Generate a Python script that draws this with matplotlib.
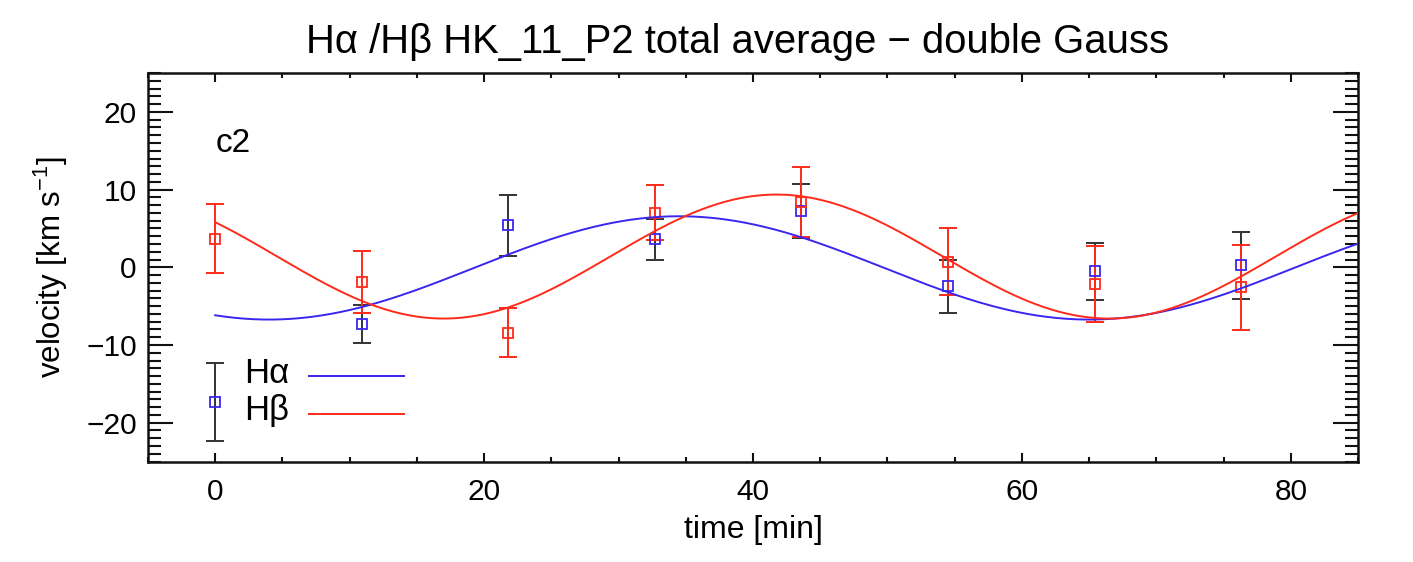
import numpy as np
import matplotlib
matplotlib.use("Agg")
import matplotlib.pyplot as plt
from matplotlib.ticker import MultipleLocator
from matplotlib.lines import Line2D

plt.rcParams["font.family"] = ["Liberation Sans", "DejaVu Sans"]
plt.rcParams["mathtext.fontset"] = "custom"
plt.rcParams["mathtext.rm"] = "Liberation Sans"
plt.rcParams["mathtext.it"] = "Liberation Sans:italic"

# Observation times [min]
time_min = [0.0, 10.9, 21.8, 32.7, 43.6, 54.5, 65.4, 76.3]

# H-alpha velocities and errors [km/s]
halpha_vel = [-17.3, -7.25, 5.4, 3.6, 7.25, -2.45, -0.5, 0.25]
halpha_err = [5.0, 2.45, 3.95, 2.6, 3.5, 3.4, 3.65, 4.3]

# H-beta velocities and errors [km/s]
hbeta_vel = [3.7, -1.9, -8.4, 7.05, 8.4, 0.7, -2.2, -2.6]
hbeta_err = [4.45, 4.0, 3.2, 3.5, 4.5, 4.3, 4.9, 5.5]

# Sinusoidal fit parameters: offset, amplitude, period [min], time of minimum [min]
halpha_fit = dict(offset=-0.08, amplitude=6.65, period=61.0, t_min=4.0)
hbeta_fit = dict(offset=1.38, amplitude=7.98, period=49.5, t_min=17.0)

x_ticks = [0, 20, 40, 60, 80]
y_ticks = [-20, -10, 0, 10, 20]

c_blue = "#3a26f0"
c_red = "#ff2a1a"
c_err = "#333333"


def sine_model(t, offset, amplitude, period, t_min):
    return offset - amplitude * np.cos(2 * np.pi * (t - t_min) / period)


fig = plt.figure(figsize=(14.13, 5.62), dpi=100)
ax = fig.add_axes([0.1047, 0.1788, 0.8564, 0.6912])

ax.set_xlim(-5, 85)
ax.set_ylim(-25, 25)

# Data with error bars
ax.errorbar(time_min, halpha_vel, yerr=halpha_err, fmt="none", ecolor=c_err,
            elinewidth=1.4, capsize=6.5, capthick=1.4, zorder=2)
ax.errorbar(time_min, hbeta_vel, yerr=hbeta_err, fmt="none", ecolor=c_red,
            elinewidth=1.4, capsize=6.5, capthick=1.4, zorder=3)
ax.plot(time_min, halpha_vel, ls="none", marker="s", ms=6.8, mfc="none",
        mec=c_blue, mew=1.3, zorder=4)
ax.plot(time_min, hbeta_vel, ls="none", marker="s", ms=6.8, mfc="none",
        mec=c_red, mew=1.3, zorder=5)

# Fitted curves
t_fine = np.linspace(0, 85, 600)
ax.plot(t_fine, sine_model(t_fine, **halpha_fit), color=c_blue, lw=1.4, zorder=6)
ax.plot(t_fine, sine_model(t_fine, **hbeta_fit), color=c_red, lw=1.4, zorder=6)

# Labels
ax.text(0.0, 14.85, "c2", fontsize=24, va="baseline", ha="left")
ax.text(0.0794, 0.2021, "H\u03b1", transform=ax.transAxes, fontsize=25,
        va="baseline", ha="left")
ax.text(0.0794, 0.1068, "H\u03b2", transform=ax.transAxes, fontsize=25,
        va="baseline", ha="left")
ax.add_line(Line2D([0.133, 0.2116], [0.220, 0.220], transform=ax.transAxes,
                   color=c_blue, lw=1.4))
ax.add_line(Line2D([0.133, 0.2116], [0.122, 0.122], transform=ax.transAxes,
                   color=c_red, lw=1.4))

ax.set_xlabel("time [min]", fontsize=23, labelpad=6)
ax.set_ylabel("velocity [km s$^{\\mathregular{-1}}$]", fontsize=22.5, labelpad=12)
fig.text(0.522, 1 - 53 / 562, "H\u03b1 /H\u03b2 HK_11_P2 total average \u2212 double Gauss",
         fontsize=28.8, ha="center", va="baseline")

# Axes styling
ax.xaxis.set_major_locator(MultipleLocator(20))
ax.xaxis.set_minor_locator(MultipleLocator(5))
ax.yaxis.set_major_locator(MultipleLocator(10))
ax.yaxis.set_minor_locator(MultipleLocator(1))
ax.set_xticks(x_ticks)
ax.set_yticks(y_ticks)

ax.tick_params(axis="both", which="both", direction="in", top=True, right=True,
               labelsize=21.5, width=1.5, color="#111111")
ax.tick_params(axis="x", which="major", length=6.5, pad=12)
ax.tick_params(axis="x", which="minor", length=3.6)
ax.tick_params(axis="y", which="major", length=18, pad=8)
ax.tick_params(axis="y", which="minor", length=9.4)
for sp in ax.spines.values():
    sp.set_linewidth(1.8)
    sp.set_color("#111111")

fig.savefig("out.png", dpi=100)
